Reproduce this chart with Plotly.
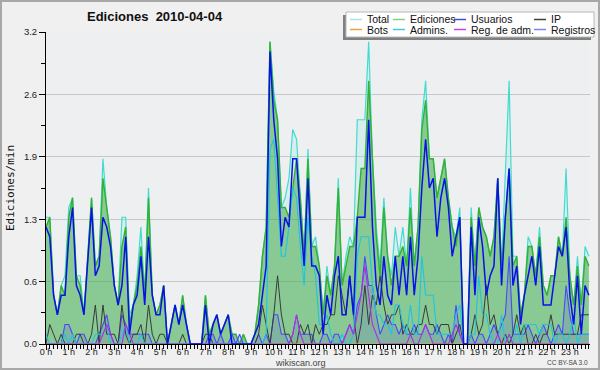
import plotly.graph_objects as go

# 10-minute slots of the day (0 = 00:00 ... 143 = 23:50)
slots = list(range(144))
hour_tickvals = [0, 6, 12, 18, 24, 30, 36, 42, 48, 54, 60, 66, 72, 78, 84, 90, 96, 102, 108, 114, 120, 126, 132, 138]
hour_ticktext = ["0 h", "1 h", "2 h", "3 h", "4 h", "5 h", "6 h", "7 h", "8 h", "9 h", "10 h", "11 h",
                 "12 h", "13 h", "14 h", "15 h", "16 h", "17 h", "18 h", "19 h", "20 h", "21 h", "22 h", "23 h"]
y_tickvals = [0, 0.64, 1.28, 1.92, 2.56, 3.2]
y_ticktext = ["0.0", "0.6", "1.3", "1.9", "2.6", "3.2"]

total = [1.3, 1.3, 0.5, 0.3, 0.6, 0.7, 1.4, 1.5, 0.7, 0.7, 0.3, 0.9,
         1.5, 0.8, 0.9, 1.9, 1.4, 1.1, 0.6, 0.4, 1.3, 1.3, 0.3, 0.4,
         0.7, 1.2, 0.5, 1.6, 0.5, 0.3, 0.4, 0.6, 0.0, 0.2, 0.4, 0.2,
         0.5, 0.2, 0.0, 0.0, 0.0, 0.0, 0.5, 0.1, 0.2, 0.3, 0.1, 0.2,
         0.3, 0.1, 0.1, 0.0, 0.1, 0.0, 0.0, 0.1, 0.4, 0.9, 1.2, 3.1,
         2.6, 2.3, 1.4, 1.5, 1.7, 2.2, 2.1, 1.5, 0.9, 2.0, 1.0, 1.1,
         0.8, 0.3, 0.8, 0.5, 0.8, 1.7, 0.6, 0.9, 1.1, 1.0, 2.3, 2.3,
         2.3, 3.1, 1.9, 1.2, 0.8, 1.5, 0.9, 0.7, 1.2, 0.9, 1.2, 0.8,
         1.6, 0.8, 1.2, 2.3, 2.7, 1.9, 1.9, 1.5, 1.7, 1.9, 1.5, 1.2,
         1.1, 1.4, 0.0, 0.0, 1.4, 0.8, 1.4, 1.2, 1.1, 0.9, 1.1, 1.7,
         0.8, 1.8, 2.7, 0.9, 0.9, 0.3, 0.5, 1.1, 1.0, 0.7, 1.2, 0.6,
         0.5, 0.7, 0.7, 1.1, 0.9, 1.8, 0.7, 0.4, 0.9, 0.4, 1.0, 0.9]

ediciones = [1.2, 1.3, 0.5, 0.3, 0.6, 0.5, 1.3, 1.5, 0.7, 0.6, 0.3, 0.9,
             1.5, 0.8, 0.9, 1.7, 1.4, 1.1, 0.6, 0.4, 1.0, 1.2, 0.2, 0.4,
             0.6, 1.0, 0.5, 1.5, 0.5, 0.3, 0.4, 0.6, 0.0, 0.2, 0.4, 0.2,
             0.5, 0.2, 0.0, 0.0, 0.0, 0.0, 0.5, 0.1, 0.2, 0.3, 0.1, 0.2,
             0.3, 0.1, 0.1, 0.0, 0.1, 0.0, 0.0, 0.1, 0.4, 0.9, 1.2, 3.1,
             2.5, 2.3, 1.4, 1.4, 1.3, 1.6, 1.9, 1.5, 0.9, 1.9, 1.0, 1.0,
             0.8, 0.3, 0.7, 0.5, 0.8, 1.6, 0.6, 0.8, 1.0, 1.0, 1.3, 1.8,
             1.8, 2.7, 1.9, 1.1, 0.7, 1.4, 0.9, 0.6, 0.9, 0.9, 1.0, 0.8,
             1.4, 0.8, 1.2, 2.2, 2.5, 1.9, 1.9, 1.5, 1.7, 1.9, 1.5, 1.2,
             1.0, 1.3, 0.0, 0.0, 1.3, 0.8, 1.4, 1.2, 1.1, 0.9, 1.1, 1.7,
             0.8, 1.3, 1.8, 0.8, 0.9, 0.3, 0.5, 1.0, 1.0, 0.7, 1.1, 0.6,
             0.5, 0.7, 0.7, 1.1, 0.9, 1.3, 0.7, 0.4, 0.8, 0.4, 0.9, 0.8]

usuarios = [1.2, 1.1, 0.5, 0.3, 0.5, 0.5, 1.1, 1.4, 0.6, 0.5, 0.3, 0.9,
            1.4, 0.7, 0.8, 1.3, 1.2, 1.0, 0.6, 0.4, 0.6, 1.1, 0.1, 0.4,
            0.5, 0.9, 0.4, 1.1, 0.5, 0.3, 0.3, 0.6, 0.0, 0.2, 0.4, 0.2,
            0.4, 0.2, 0.0, 0.0, 0.0, 0.0, 0.4, 0.0, 0.2, 0.3, 0.1, 0.2,
            0.3, 0.0, 0.0, 0.0, 0.0, 0.0, 0.0, 0.1, 0.2, 0.5, 0.8, 3.0,
            2.3, 1.9, 1.0, 1.3, 1.2, 1.9, 1.9, 1.3, 0.8, 1.7, 0.8, 0.8,
            0.7, 0.1, 0.5, 0.3, 0.7, 0.9, 0.3, 0.3, 0.7, 0.3, 1.3, 1.3,
            1.3, 2.3, 1.2, 0.6, 0.4, 0.9, 0.5, 0.4, 0.9, 0.5, 0.9, 0.5,
            1.1, 0.5, 0.9, 1.6, 2.1, 1.6, 1.7, 1.1, 1.5, 1.7, 1.4, 0.9,
            1.1, 1.3, 0.0, 0.0, 1.2, 0.5, 1.3, 1.0, 0.5, 0.7, 0.8, 1.7,
            0.6, 1.3, 1.8, 0.6, 0.8, 0.2, 0.5, 0.7, 0.9, 0.6, 1.0, 0.4,
            0.4, 0.4, 0.7, 1.0, 0.9, 1.2, 0.5, 0.2, 0.7, 0.1, 0.6, 0.5]

ip = [0.0, 0.2, 0.1, 0.0, 0.1, 0.0, 0.0, 0.0, 0.1, 0.1, 0.0, 0.0,
      0.1, 0.4, 0.0, 0.4, 0.1, 0.1, 0.1, 0.0, 0.4, 0.1, 0.0, 0.1,
      0.1, 0.2, 0.0, 0.4, 0.1, 0.0, 0.1, 0.1, 0.0, 0.0, 0.0, 0.0,
      0.1, 0.0, 0.0, 0.0, 0.0, 0.0, 0.1, 0.1, 0.0, 0.0, 0.0, 0.0,
      0.0, 0.0, 0.0, 0.0, 0.0, 0.0, 0.0, 0.0, 0.1, 0.4, 0.2, 0.0,
      0.3, 0.7, 0.3, 0.1, 0.1, 0.0, 0.0, 0.2, 0.1, 0.2, 0.0, 0.2,
      0.1, 0.2, 0.2, 0.3, 0.3, 0.7, 0.5, 0.3, 0.7, 0.3, 0.0, 0.2,
      0.6, 0.2, 0.5, 0.4, 0.7, 0.4, 0.2, 0.3, 0.3, 0.4, 0.1, 0.2,
      0.1, 0.1, 0.2, 0.2, 0.4, 0.2, 0.2, 0.1, 0.2, 0.2, 0.2, 0.0,
      0.1, 0.2, 0.0, 0.0, 0.1, 0.3, 0.1, 0.2, 0.6, 0.2, 0.3, 0.1,
      0.0, 0.1, 0.0, 0.1, 0.3, 0.1, 0.2, 0.0, 0.0, 0.1, 0.0, 0.1,
      0.1, 0.3, 0.1, 0.1, 0.1, 0.1, 0.1, 0.1, 0.1, 0.3, 0.3, 0.3]

bots = [0.0] * 144

admins = [0.1, 0.0, 0.0, 0.0, 0.0, 0.1, 0.0, 0.1, 0.0, 0.0, 0.0, 0.0,
          0.0, 0.1, 0.1, 0.1, 0.2, 0.0, 0.0, 0.0, 0.1, 0.2, 0.0, 0.0,
          0.0, 0.1, 0.0, 0.0, 0.0, 0.0, 0.0, 0.0, 0.0, 0.0, 0.0, 0.0,
          0.0, 0.0, 0.0, 0.0, 0.0, 0.0, 0.0, 0.0, 0.0, 0.0, 0.0, 0.0,
          0.0, 0.0, 0.0, 0.0, 0.0, 0.0, 0.0, 0.0, 0.0, 0.0, 0.1, 2.0,
          2.1, 1.5, 0.9, 0.9, 1.2, 1.6, 1.5, 1.0, 0.6, 1.3, 0.9, 0.7,
          0.2, 0.2, 0.3, 0.1, 0.0, 0.0, 0.1, 0.0, 0.0, 0.1, 0.9, 1.1,
          1.1, 1.1, 0.6, 0.3, 0.3, 0.2, 0.2, 0.1, 0.4, 0.4, 0.2, 0.1,
          0.4, 0.1, 0.1, 0.9, 0.5, 0.5, 0.5, 0.1, 0.1, 0.1, 0.1, 0.1,
          0.3, 0.4, 0.0, 0.0, 0.1, 0.1, 0.7, 0.3, 0.3, 0.1, 0.0, 0.0,
          0.3, 0.0, 0.1, 0.0, 0.2, 0.0, 0.2, 0.2, 0.2, 0.2, 0.1, 0.2,
          0.2, 0.2, 0.0, 0.1, 0.1, 0.0, 0.1, 0.3, 0.0, 0.1, 0.1, 0.1]

reg_adm = [0.0, 0.0, 0.0, 0.0, 0.0, 0.0, 0.0, 0.0, 0.0, 0.0, 0.0, 0.0,
           0.0, 0.0, 0.0, 0.1, 0.2, 0.1, 0.0, 0.0, 0.0, 0.2, 0.1, 0.0,
           0.0, 0.0, 0.0, 0.0, 0.0, 0.0, 0.0, 0.0, 0.0, 0.0, 0.0, 0.0,
           0.0, 0.0, 0.0, 0.0, 0.0, 0.0, 0.0, 0.0, 0.0, 0.0, 0.0, 0.0,
           0.0, 0.0, 0.0, 0.0, 0.0, 0.0, 0.0, 0.0, 0.0, 0.0, 0.0, 0.0,
           0.0, 0.0, 0.0, 0.0, 0.0, 0.1, 0.3, 0.1, 0.0, 0.0, 0.0, 0.0,
           0.0, 0.0, 0.0, 0.0, 0.0, 0.0, 0.0, 0.1, 0.2, 0.1, 0.3, 0.5,
           0.8, 0.5, 0.2, 0.1, 0.0, 0.0, 0.0, 0.0, 0.0, 0.0, 0.0, 0.0,
           0.1, 0.0, 0.0, 0.1, 0.2, 0.1, 0.0, 0.0, 0.0, 0.0, 0.0, 0.1,
           0.2, 0.1, 0.0, 0.0, 0.0, 0.0, 0.0, 0.0, 0.0, 0.0, 0.0, 0.1,
           0.0, 0.0, 0.1, 0.0, 0.0, 0.0, 0.0, 0.0, 0.0, 0.0, 0.0, 0.0,
           0.0, 0.0, 0.0, 0.0, 0.0, 0.0, 0.0, 0.0, 0.0, 0.0, 0.0, 0.0]

registros = [0.0, 0.0, 0.0, 0.0, 0.0, 0.2, 0.2, 0.1, 0.0, 0.1, 0.1, 0.0,
             0.0, 0.0, 0.1, 0.2, 0.3, 0.1, 0.0, 0.0, 0.3, 0.2, 0.1, 0.1,
             0.1, 0.1, 0.1, 0.1, 0.0, 0.0, 0.0, 0.0, 0.0, 0.0, 0.0, 0.0,
             0.0, 0.0, 0.0, 0.0, 0.0, 0.0, 0.0, 0.1, 0.1, 0.0, 0.1, 0.0,
             0.0, 0.1, 0.0, 0.1, 0.0, 0.0, 0.0, 0.0, 0.1, 0.0, 0.1, 0.0,
             0.3, 0.3, 0.1, 0.1, 0.0, 0.1, 0.3, 0.1, 0.1, 0.1, 0.1, 0.0,
             0.0, 0.1, 0.1, 0.0, 0.1, 0.1, 0.0, 0.1, 0.2, 0.1, 0.4, 0.5,
             0.9, 0.6, 0.6, 0.3, 0.1, 0.2, 0.3, 0.2, 0.2, 0.1, 0.2, 0.1,
             0.1, 0.2, 0.1, 0.1, 0.2, 0.1, 0.1, 0.2, 0.1, 0.0, 0.1, 0.0,
             0.4, 0.1, 0.0, 0.0, 0.1, 0.0, 0.1, 0.1, 0.0, 0.1, 0.2, 0.1,
             0.2, 0.3, 0.9, 0.1, 0.1, 0.1, 0.1, 0.2, 0.1, 0.0, 0.1, 0.2,
             0.1, 0.0, 0.1, 0.2, 0.1, 0.6, 0.3, 0.1, 0.1, 0.1, 0.1, 0.1]

legend_names = ["Total", "Ediciones", "Usuarios", "IP", "Bots", "Admins.", "Reg. de adm.", "Registros"]
legend_colors = ["#a8e6e0", "#88cc88", "#4848e0", "#404040", "#f0a040", "#40c8e0", "#d040e0", "#8080f0"]

# ---- layout geometry (pixels) ----
W, H = 600, 370
L, R, T, B = 46, 10, 32, 26
PW, PH = W - L - R, H - T - B


def px(x):
    return (x - L) / PW


def py(y):
    return (H - B - y) / PH


fig = go.Figure()

fig.add_trace(go.Scatter(x=slots, y=total, name="Total", mode="lines", fill="tozeroy",
                         fillcolor="rgba(120,230,215,0.18)", line=dict(color="#40dcd0", width=1.2)))
fig.add_trace(go.Scatter(x=slots, y=ediciones, name="Ediciones", mode="lines", fill="tozeroy",
                         fillcolor="rgba(50,160,50,0.48)", line=dict(color="#34b034", width=1.4)))
fig.add_trace(go.Scatter(x=slots, y=registros, name="Registros", mode="lines", fill="tozeroy",
                         fillcolor="rgba(90,90,230,0.18)", line=dict(color="#4848ff", width=1.1)))
fig.add_trace(go.Scatter(x=slots, y=ip, name="IP", mode="lines", line=dict(color="#3a3a3a", width=1)))
fig.add_trace(go.Scatter(x=slots, y=bots, name="Bots", mode="lines", line=dict(color="#f0a040", width=1)))
fig.add_trace(go.Scatter(x=slots, y=admins, name="Admins.", mode="lines", line=dict(color="#20c4e0", width=1.1)))
fig.add_trace(go.Scatter(x=slots, y=reg_adm, name="Reg. de adm.", mode="lines", line=dict(color="#b030e0", width=1.1)))
fig.add_trace(go.Scatter(x=slots, y=usuarios, name="Usuarios", mode="lines", line=dict(color="#0a10e8", width=1.5)))

shapes = []
annotations = []

# outer border of the image
shapes.append(dict(type="rect", xref="paper", yref="paper", x0=px(1), x1=px(599), y0=py(369), y1=py(1),
                   line=dict(color="#a8a8a8", width=2), fillcolor="rgba(0,0,0,0)", layer="above"))

# legend box with shadow
shapes.append(dict(type="rect", xref="paper", yref="paper", x0=px(343), x1=px(591), y0=py(40), y1=py(15),
                   line=dict(width=0), fillcolor="#808080", layer="above"))
shapes.append(dict(type="rect", xref="paper", yref="paper", x0=px(346), x1=px(594), y0=py(37), y1=py(12),
                   line=dict(color="#b8b8b8", width=1), fillcolor="#ffffff", layer="above"))

col_x = [350, 393, 454, 534]
row_y = [19.5, 29.5]
for k, (name, col) in enumerate(zip(legend_names, legend_colors)):
    r, c = divmod(k, 4)
    x0 = col_x[c]
    y0 = row_y[r]
    shapes.append(dict(type="line", xref="paper", yref="paper", x0=px(x0), x1=px(x0 + 12),
                       y0=py(y0), y1=py(y0), line=dict(color=col, width=1.5), layer="above"))
    annotations.append(dict(text=name, xref="paper", yref="paper", x=px(x0 + 15), y=py(y0),
                            xanchor="left", yanchor="middle", showarrow=False,
                            font=dict(family="Liberation Sans, Arial, sans-serif", size=10.5, color="#111")))

annotations.append(dict(text="<b>Ediciones\u00a0\u00a02010-04-04</b>", xref="paper", yref="paper", x=px(155), y=py(16.5),
                        xanchor="center", yanchor="middle", showarrow=False,
                        font=dict(family="Liberation Sans, Arial, sans-serif", size=13, color="#111")))
annotations.append(dict(text="Ediciones/min", xref="paper", yref="paper", x=px(10), y=py(188),
                        xanchor="center", yanchor="middle", showarrow=False, textangle=-90,
                        font=dict(family="DejaVu Sans Mono, monospace", size=11, color="#111")))
annotations.append(dict(text="wikiscan.org", xref="paper", yref="paper", x=px(300), y=py(362.5),
                        xanchor="center", yanchor="middle", showarrow=False,
                        font=dict(family="Liberation Sans, Arial, sans-serif", size=9, color="#444")))
annotations.append(dict(text="CC BY-SA 3.0", xref="paper", yref="paper", x=px(590), y=py(362.5),
                        xanchor="right", yanchor="middle", showarrow=False,
                        font=dict(family="Liberation Sans, Arial, sans-serif", size=6.5, color="#444")))

fig.update_layout(
    width=W, height=H,
    margin=dict(l=L, r=R, t=T, b=B, pad=0),
    paper_bgcolor="#f0f0f0",
    plot_bgcolor="#eeeff1",
    showlegend=False,
    shapes=shapes,
    annotations=annotations,
    font=dict(family="Liberation Sans, Arial, sans-serif", size=9, color="#222"),
)

fig.update_xaxes(range=[0, 143.3], tickmode="array", tickvals=hour_tickvals, ticktext=hour_ticktext,
                 showgrid=False, zeroline=False, showline=True, linecolor="#000", linewidth=1,
                 ticks="outside", ticklen=5, tickcolor="#000", tickwidth=1,
                 minor=dict(dtick=1, tick0=0, ticks="outside", ticklen=4, tickcolor="#000", tickwidth=1, showgrid=False),
                 tickfont=dict(size=9, color="#222"), ticklabelstandoff=-6, fixedrange=True)
fig.update_yaxes(range=[0, 3.2], tickmode="array", tickvals=y_tickvals, ticktext=y_ticktext,
                 showgrid=True, gridcolor="#c8c8c8", gridwidth=1, zeroline=False,
                 showline=True, linecolor="#000", linewidth=1,
                 ticks="outside", ticklen=6, tickcolor="#000", tickwidth=1,
                 minor=dict(tickvals=[0.32, 0.96, 1.6, 2.24, 2.88], ticks="outside", ticklen=4,
                            tickcolor="#000", tickwidth=1, showgrid=False),
                 tickfont=dict(size=9.5, color="#222"), fixedrange=True)

fig.write_html("out.html", config={"displayModeBar": False},
               post_script="document.body.style.margin='0px';document.body.style.overflow='hidden';")
